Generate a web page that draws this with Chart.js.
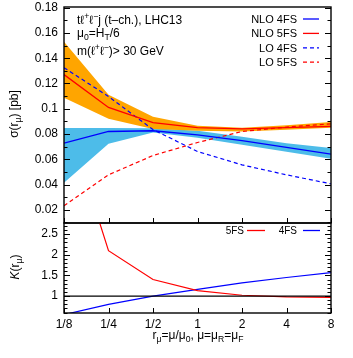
<!DOCTYPE html>
<html>
<head>
<meta charset="utf-8">
<script src="https://cdn.jsdelivr.net/npm/chart.js@4"></script>
<style>
    html, body { margin: 0; padding: 0; background: #fff; }
    #wrap { position: relative; width: 353px; height: 358px; }
    canvas { position: absolute; left: 0; }
</style>
</head>
<body>
<div id="wrap">
    <canvas id="sigmaChart" width="353" height="225" style="top:0"></canvas>
    <canvas id="kChart" width="353" height="140" style="top:218px"></canvas>
</div>
<script>
// Escala r_mu = mu/mu0
const muRatio = [0.125, 0.25, 0.5, 1, 2, 4, 8];
const xTickLabels = ['1/8', '1/4', '1/2', '1', '2', '4', '8'];

// Seção de choque [pb]
const nlo4 = [0.0728, 0.082, 0.0826, 0.0794, 0.0747, 0.0694, 0.0641];
const nlo4Hi = [0.0847, 0.0847, 0.0845, 0.0826, 0.0778, 0.0727, 0.069];
const nlo4Lo = [0.0414, 0.0723, 0.0812, 0.077, 0.0715, 0.066, 0.0604];
const nlo5 = [0.127, 0.101, 0.089, 0.085, 0.084, 0.085, 0.086];
const nlo5Hi = [0.153, 0.111, 0.0937, 0.0865, 0.085, 0.087, 0.0895];
const nlo5Lo = [0.1087, 0.092, 0.084, 0.0826, 0.082, 0.0834, 0.085];
const lo4 = [0.1325, 0.1097, 0.0835, 0.0662, 0.0556, 0.0477, 0.0406];
const lo5 = [0.0232, 0.0477, 0.063, 0.0733, 0.082, 0.0855, 0.088];
const sigmaTicks = [0.02, 0.04, 0.06, 0.08, 0.1, 0.12, 0.14, 0.16, 0.18];

// Fator K
const k5 = [5.5, 2.1, 1.4, 1.13, 1.02, 0.98, 0.97];
const k4 = [0.55, 0.8, 1.0, 1.16, 1.32, 1.45, 1.57];
const kTicks = [1, 1.5, 2, 2.5];

const FONT = '"Liberation Sans", Arial, sans-serif';
const BLUE = '#0000ff';
const RED = '#ff0000';

const pts = arr => arr.map((v, i) => ({ x: muRatio[i], y: v }));

// Texto com sub/sobrescritos: partes [texto, 'n'|'b'|'p', itálico]
function rich(ctx, parts, x, y, size, align) {
    const font = (s, it) => (it ? 'italic ' : '') + s + 'px ' + FONT;
    let w = 0;
    const items = parts.map(([t, m, it]) => {
        const s = m === 'n' ? size : size * 0.72;
        ctx.font = font(s, it);
        const iw = ctx.measureText(t).width;
        w += iw;
        return { t, m, s, it, iw };
    });
    let cx = align === 'right' ? x - w : align === 'center' ? x - w / 2 : x;
    ctx.textAlign = 'left';
    ctx.textBaseline = 'alphabetic';
    ctx.fillStyle = '#000';
    items.forEach(i => {
        ctx.font = font(i.s, i.it);
        const dy = i.m === 'b' ? size * 0.28 : i.m === 'p' ? -size * 0.42 : 0;
        ctx.fillText(i.t, cx, y + dy);
        cx += i.iw;
    });
}

function legendLine(ctx, x1, x2, y, color, dash) {
    ctx.save();
    ctx.strokeStyle = color;
    ctx.lineWidth = 1.3;
    ctx.setLineDash(dash || []);
    ctx.beginPath();
    ctx.moveTo(x1, y);
    ctx.lineTo(x2, y);
    ctx.stroke();
    ctx.restore();
}

// Moldura e marcas para dentro
function frameTicks(chart, yFrom, yTo, yStep, isMajor) {
    const ctx = chart.ctx;
    const a = chart.chartArea;
    const xs = chart.scales.x;
    const ys = chart.scales.y;
    ctx.save();
    ctx.strokeStyle = '#000';
    ctx.lineWidth = 1;
    ctx.beginPath();
    const n = Math.round((yTo - yFrom) / yStep);
    for (let i = 0; i <= n; i++) {
        const v = yFrom + i * yStep;
        const py = Math.round(ys.getPixelForValue(v)) + 0.5;
        const len = isMajor(i) ? 6 : 3.5;
        ctx.moveTo(a.left, py); ctx.lineTo(a.left + len, py);
        ctx.moveTo(a.right, py); ctx.lineTo(a.right - len, py);
    }
    muRatio.forEach(v => {
        const px = Math.round(xs.getPixelForValue(v)) + 0.5;
        ctx.moveTo(px, a.bottom); ctx.lineTo(px, a.bottom - 5);
    });
    ctx.stroke();
    ctx.lineWidth = 1.4;
    ctx.strokeRect(a.left, a.top, a.right - a.left, a.bottom - a.top);
    ctx.restore();
}

// Largura fixa do eixo y, sem folga extra para rótulos
const fixY = s => { s.width = 64; s.paddingTop = 0; s.paddingBottom = 0; };

const commonX = {
    type: 'logarithmic',
    min: 0.125,
    max: 8,
    afterBuildTicks: s => { s.ticks = muRatio.map(v => ({ value: v })); },
    grid: { display: false, drawTicks: false },
    border: { display: false }
};

// Gráfico superior: sigma
new Chart(document.getElementById('sigmaChart'), {
    type: 'line',
    data: {
        datasets: [
            { data: pts(nlo4Hi), fill: '+1', backgroundColor: '#4dbce9', borderWidth: 0, pointRadius: 0, order: 6 },
            { data: pts(nlo4Lo), fill: false, borderWidth: 0, pointRadius: 0, order: 6 },
            { data: pts(nlo5Hi), fill: '+1', backgroundColor: '#ffa500', borderWidth: 0, pointRadius: 0, order: 5 },
            { data: pts(nlo5Lo), fill: false, borderWidth: 0, pointRadius: 0, order: 5 },
            { data: pts(lo4), borderColor: BLUE, borderWidth: 1.2, borderDash: [4, 3], pointRadius: 0, fill: false, order: 2 },
            { data: pts(lo5), borderColor: RED, borderWidth: 1.2, borderDash: [4, 3], pointRadius: 0, fill: false, order: 2 },
            { data: pts(nlo4), borderColor: BLUE, borderWidth: 1.3, pointRadius: 0, fill: false, order: 1 },
            { data: pts(nlo5), borderColor: RED, borderWidth: 1.3, pointRadius: 0, fill: false, order: 1 }
        ]
    },
    options: {
        responsive: false,
        animation: false,
        tension: 0,
        layout: { padding: { top: 7, right: 22, bottom: 2, left: 0 } },
        plugins: { legend: { display: false }, tooltip: { enabled: false } },
        scales: {
            x: Object.assign({}, commonX, {
                ticks: { display: false },
                afterFit: s => { s.height = 0; s.paddingLeft = 0; s.paddingRight = 0; }
            }),
            y: {
                min: 0.0096,
                max: 0.1805,
                afterBuildTicks: s => { s.ticks = sigmaTicks.map(v => ({ value: v })); },
                afterFit: fixY,
                ticks: { color: '#000', font: { family: FONT, size: 12 }, padding: 6, callback: v => String(+v.toFixed(2)) },
                grid: { display: false, drawTicks: false },
                border: { display: false }
            }
        }
    },
    plugins: [{
        id: 'decor',
        afterDraw(chart) {
            const ctx = chart.ctx;
            frameTicks(chart, 0.01, 0.18, 0.01, i => i % 2 === 1);
            rich(ctx, [['t', 'n'], ['ℓ', 'n'], ['+', 'p'], ['ℓ', 'n'], ['−', 'p'], ['j (t–ch.), LHC13', 'n']], 77, 24, 12);
            rich(ctx, [['μ', 'n'], ['0', 'b'], ['=H', 'n'], ['T', 'b'], ['/6', 'n']], 77, 37, 12);
            rich(ctx, [['m(ℓ', 'n'], ['+', 'p'], ['ℓ', 'n'], ['−', 'p'], [')> 30 GeV', 'n']], 77, 55, 12);
            const rows = [
                ['NLO 4FS', BLUE, null],
                ['NLO 5FS', RED, null],
                ['LO 4FS', BLUE, [4, 3]],
                ['LO 5FS', RED, [4, 3]]
            ];
            rows.forEach(([t, c, d], i) => {
                const y = 19 + i * 14.4;
                rich(ctx, [[t, 'n']], 297, y + 4, 11, 'right');
                legendLine(ctx, 303, 319, y, c, d);
            });
            ctx.save();
            ctx.translate(14, 114);
            ctx.rotate(-Math.PI / 2);
            rich(ctx, [['σ(r', 'n'], ['μ', 'b'], [') [pb]', 'n']], 0, 4, 12, 'center');
            ctx.restore();
        }
    }]
});

// Gráfico inferior: fator K
new Chart(document.getElementById('kChart'), {
    type: 'line',
    data: {
        datasets: [
            { data: [{ x: 0.125, y: 1 }, { x: 8, y: 1 }], borderColor: '#000', borderWidth: 1.3, pointRadius: 0, fill: false },
            { data: pts(k5), borderColor: RED, borderWidth: 1.2, pointRadius: 0, fill: false },
            { data: pts(k4), borderColor: BLUE, borderWidth: 1.2, pointRadius: 0, fill: false }
        ]
    },
    options: {
        responsive: false,
        animation: false,
        layout: { padding: { top: 5, right: 22, bottom: 0, left: 0 } },
        plugins: { legend: { display: false }, tooltip: { enabled: false } },
        scales: {
            x: Object.assign({}, commonX, {
                afterFit: s => { s.height = 45; s.paddingLeft = 0; s.paddingRight = 0; },
                ticks: {
                    color: '#000', font: { family: FONT, size: 12 }, padding: 4, maxRotation: 0, autoSkip: false,
                    callback: (v, i) => xTickLabels[i]
                }
            }),
            y: {
                min: 0.59,
                max: 2.77,
                afterBuildTicks: s => { s.ticks = kTicks.map(v => ({ value: v })); },
                afterFit: fixY,
                ticks: { color: '#000', font: { family: FONT, size: 12 }, padding: 6, callback: v => String(v) },
                grid: { display: false, drawTicks: false },
                border: { display: false }
            }
        }
    },
    plugins: [{
        id: 'decorK',
        afterDraw(chart) {
            const ctx = chart.ctx;
            frameTicks(chart, 0.6, 2.7, 0.1, i => (i + 6) % 5 === 0);
            rich(ctx, [['5FS', 'n']], 244, 16, 10, 'right');
            legendLine(ctx, 247, 265, 12.5, RED);
            rich(ctx, [['4FS', 'n']], 297, 16, 10, 'right');
            legendLine(ctx, 303, 320, 12.5, BLUE);
            ctx.save();
            ctx.translate(15, 49);
            ctx.rotate(-Math.PI / 2);
            rich(ctx, [['K', 'n', true], ['(r', 'n'], ['μ', 'b'], [')', 'n']], 0, 4, 12, 'center');
            ctx.restore();
            rich(ctx, [['r', 'n'], ['μ', 'b'], ['=μ/μ', 'n'], ['0', 'b'], [', μ=μ', 'n'], ['R', 'b'], ['=μ', 'n'], ['F', 'b']], 198, 121, 12, 'center');
        }
    }]
});
</script>
</body>
</html>
